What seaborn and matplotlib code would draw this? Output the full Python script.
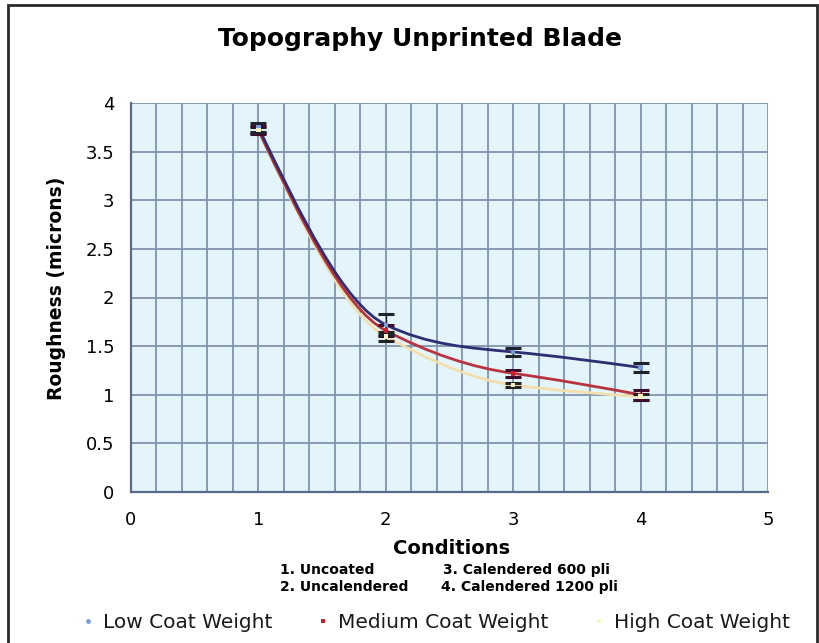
import numpy as np
import pandas as pd
import matplotlib
matplotlib.use("Agg")
import matplotlib.pyplot as plt
from matplotlib.path import Path
from matplotlib.patches import PathPatch, Rectangle
from matplotlib.ticker import MultipleLocator, FuncFormatter
from matplotlib.lines import Line2D
import seaborn as sns

# Roughness measurements per condition
conditions = [1, 2, 3, 4]
low_coat = [3.75, 1.72, 1.44, 1.28]
medium_coat = [3.72, 1.66, 1.22, 1.00]
high_coat = [3.72, 1.60, 1.10, 0.98]
low_err = [0.045, 0.11, 0.045, 0.05]
medium_err = [0.04, 0.06, 0.035, 0.05]
high_err = [0.03, 0.05, 0.025, 0.03]
series_names = ["Low Coat Weight", "Medium Coat Weight", "High Coat Weight"]
condition_notes = ["1. Uncoated", "2. Uncalendered", "3. Calendered 600 pli", "4. Calendered 1200 pli"]

sns.set_theme(style="white")
plt.rcParams["font.family"] = ["DejaVu Sans"]
plt.rcParams["text.color"] = "black"

df = pd.DataFrame({
    "Conditions": conditions * 3,
    "Roughness": low_coat + medium_coat + high_coat,
    "err": low_err + medium_err + high_err,
    "series": np.repeat(series_names, len(conditions)),
})

line_colors = {"Low Coat Weight": "#2E2F72",
               "Medium Coat Weight": "#B83340",
               "High Coat Weight": "#F3DFAE"}
marker_colors = {"Low Coat Weight": "#7E9BD2",
                 "Medium Coat Weight": "#C8202E",
                 "High Coat Weight": "#FAF3C8"}
err_colors = {"Low Coat Weight": "#1E2330",
              "Medium Coat Weight": "#3A0E2A",
              "High Coat Weight": "#222222"}

fig = plt.figure(figsize=(8.2, 6.43), dpi=100)
fig.patch.set_facecolor("white")
ax = fig.add_axes([131 / 820, 1 - 492 / 643, (768 - 131) / 820, (492 - 103) / 643])
ax.set_facecolor("#E3F5FA")


def smooth_path(xs, ys, k=0.55):
    """Cubic Hermite path through the points, drawn as Bezier segments."""
    x = np.asarray(xs, float)
    y = np.asarray(ys, float)
    n = len(x)
    d = np.diff(y) / np.diff(x)
    m = np.zeros(n)
    for i in range(1, n - 1):
        m[i] = k * (y[i + 1] - y[i - 1]) / (x[i + 1] - x[i - 1])
    m[0] = 1.5 * d[0] - 0.5 * m[1]
    m[-1] = 1.5 * d[-1] - 0.5 * m[-2]
    verts = [(x[0], y[0])]
    codes = [Path.MOVETO]
    for i in range(n - 1):
        h = x[i + 1] - x[i]
        verts += [(x[i] + h / 3, y[i] + m[i] * h / 3),
                  (x[i + 1] - h / 3, y[i + 1] - m[i + 1] * h / 3),
                  (x[i + 1], y[i + 1])]
        codes += [Path.CURVE4] * 3
    return Path(verts, codes)


# draw high first so low sits on top
for name in reversed(series_names):
    sub = df[df["series"] == name]
    patch = PathPatch(smooth_path(sub["Conditions"], sub["Roughness"]),
                      facecolor="none", edgecolor=line_colors[name], lw=2.0,
                      zorder=3)
    ax.add_patch(patch)
    ax.errorbar(sub["Conditions"], sub["Roughness"], yerr=sub["err"],
                fmt="none", ecolor=err_colors[name], elinewidth=1.0,
                capsize=6, capthick=2.2, zorder=4)

sns.scatterplot(data=df, x="Conditions", y="Roughness", hue="series",
                palette=marker_colors, marker="s", s=10, linewidth=0,
                legend=False, ax=ax, zorder=5)

ax.set_xlim(0, 5)
ax.set_ylim(0, 4)
ax.xaxis.set_major_locator(MultipleLocator(1))
ax.xaxis.set_minor_locator(MultipleLocator(0.2))
ax.yaxis.set_major_locator(MultipleLocator(0.5))
ax.yaxis.set_major_formatter(FuncFormatter(lambda v, p: f"{v:g}"))
ax.grid(True, which="both", axis="x", color="#8193AD", lw=1.3)
ax.grid(True, which="major", axis="y", color="#8193AD", lw=1.3)
ax.set_axisbelow(True)

for s in ["top", "right"]:
    ax.spines[s].set_visible(False)
for s in ["left", "bottom"]:
    ax.spines[s].set_color("#5A6A88")
    ax.spines[s].set_linewidth(1.6)

ax.tick_params(axis="both", which="major", direction="out", length=5,
               width=1, color="#8090A8", labelsize=13, labelcolor="black")
ax.tick_params(axis="both", which="minor", length=0)
ax.tick_params(axis="x", pad=9)
ax.tick_params(axis="y", pad=7)

ax.set_xlabel("Conditions", fontsize=14, fontweight="bold", color="black")
ax.set_ylabel("Roughness (microns)", fontsize=13.5, fontweight="bold", color="black")
ax.xaxis.set_label_coords((452 - 131) / 637, (492 - 548) / 389)
ax.yaxis.set_label_coords((57 - 131) / 637, (492 - 288) / 389)
ax.xaxis.label.set_va("center")
ax.yaxis.label.set_va("center")

fig.text(420 / 820, 1 - 39 / 643, "Topography Unprinted Blade", ha="center", va="center",
         fontsize=18, fontweight="bold", color="black")

# condition key below the axis label
note_pos = [(280, 570), (280, 587), (443, 570), (441, 587)]
for note, (px, py) in zip(condition_notes, note_pos):
    fig.text(px / 820, 1 - py / 643, note, ha="left", va="center",
             fontsize=10, fontweight="bold", color="black")

handles = [Line2D([0], [0], marker="o" if n == series_names[0] else "s",
                  linestyle="none", markersize=3.5,
                  markerfacecolor=marker_colors[n], markeredgewidth=0)
           for n in series_names]
fig.legend(handles, series_names, loc="center", ncol=3,
           bbox_to_anchor=(435 / 820, 1 - 623 / 643), frameon=False,
           fontsize=14.5, handletextpad=0.35, columnspacing=2.1,
           handlelength=0.8, labelcolor="#1A1A1A")

# chart border
fig.patches.append(Rectangle((8 / 820, -0.02), 809 / 820, 1.02 - 5 / 643,
                             transform=fig.transFigure, fill=False,
                             edgecolor="#2A2A2A", lw=2.0))

fig.savefig("out.png", dpi=100)
